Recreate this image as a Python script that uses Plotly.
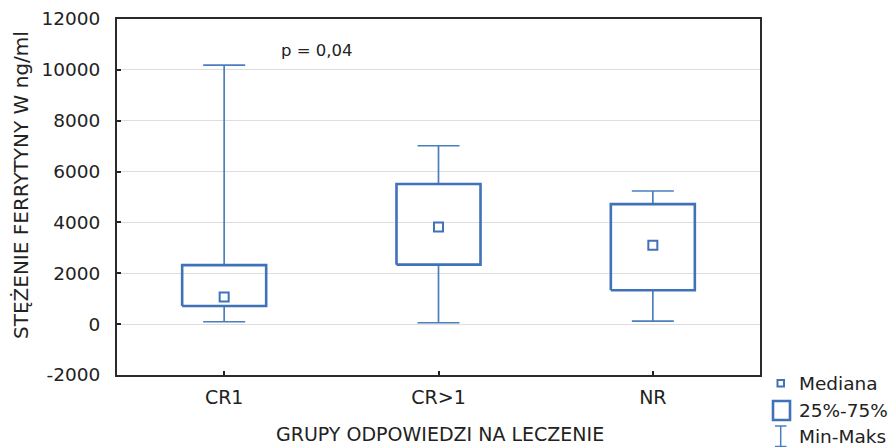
import plotly.graph_objects as go

categories = ["CR1", "CR>1", "NR"]
mins = [95, 55, 120]
q1 = [716, 2340, 1330]
medians = [1065, 3820, 3100]
q3 = [2320, 5510, 4720]
maxs = [10190, 7015, 5235]
y_ticks = [-2000, 0, 2000, 4000, 6000, 8000, 10000, 12000]

BOX = "#3f72b9"
WH = "#4a7ebd"
FONT = "DejaVu Sans, Liberation Sans, Arial, sans-serif"
TXT = "#222222"

W, H = 892, 447
L, R, T, B = 117, 760, 19, 375

fig = go.Figure()
bw = 0.196
cw = 0.098
for i, cat in enumerate(categories):
    fig.add_trace(go.Scatter(
        x=[i, i, None, i - cw, i + cw, None, i, i, None, i - cw, i + cw],
        y=[q3[i], maxs[i], None, maxs[i], maxs[i], None, q1[i], mins[i], None, mins[i], mins[i]],
        mode="lines", line=dict(color=WH, width=1.7), showlegend=False, hoverinfo="skip"))
    fig.add_trace(go.Scatter(
        x=[i - bw, i + bw, i + bw, i - bw, i - bw],
        y=[q1[i], q1[i], q3[i], q3[i], q1[i]],
        mode="lines", line=dict(color=BOX, width=2.6), showlegend=False, hoverinfo="skip"))
fig.add_trace(go.Scatter(
    x=list(range(len(categories))), y=medians, mode="markers",
    marker=dict(symbol="square-open", size=9, color=BOX, line=dict(width=2, color=BOX)),
    showlegend=False))

def px(x):
    return (x - L) / (R - L)

def py(y):
    return (B - y) / (B - T)

shapes = []
shapes.append(dict(type="rect", xref="paper", yref="paper",
                   x0=px(777.5), x1=px(784), y0=py(386.5), y1=py(380),
                   line=dict(color=BOX, width=2)))
shapes.append(dict(type="rect", xref="paper", yref="paper",
                   x0=px(773), x1=px(790), y0=py(420), y1=py(401),
                   line=dict(color=BOX, width=2.6)))
shapes.append(dict(type="line", xref="paper", yref="paper",
                   x0=px(780.7), x1=px(780.7), y0=py(446.5), y1=py(426),
                   line=dict(color=WH, width=1.5)))
for yy in (426, 446.5):
    shapes.append(dict(type="line", xref="paper", yref="paper",
                       x0=px(775), x1=px(786.5), y0=py(yy), y1=py(yy),
                       line=dict(color=WH, width=1.5)))

annotations = []
for label, yy in (("Mediana", 383), ("25%-75%", 410), ("Min-Maks", 436.5)):
    annotations.append(dict(text=label, xref="paper", yref="paper", x=px(797), y=py(yy),
                            xanchor="left", yanchor="middle", showarrow=False,
                            font=dict(family=FONT, size=18.5, color=TXT)))
annotations.append(dict(text="p = 0,04", xref="paper", yref="paper", x=px(316.5), y=py(50),
                        xanchor="center", yanchor="middle", showarrow=False,
                        font=dict(family=FONT, size=16.5, color=TXT)))
annotations.append(dict(text="GRUPY ODPOWIEDZI NA LECZENIE", xref="paper", yref="paper",
                        x=px(440), y=py(434), xanchor="center", yanchor="middle", showarrow=False,
                        font=dict(family=FONT, size=19, color=TXT)))
annotations.append(dict(text="STĘŻENIE FERRYTYNY W ng/ml", xref="paper", yref="paper",
                        x=px(21), y=py(185), xanchor="center", yanchor="middle", showarrow=False,
                        textangle=-90, font=dict(family=FONT, size=20, color=TXT)))

fig.update_layout(
    width=W, height=H,
    margin=dict(l=L, r=W - R, t=T, b=H - B, pad=0, autoexpand=False),
    paper_bgcolor="white", plot_bgcolor="white",
    font=dict(family=FONT, color=TXT, size=16),
    shapes=shapes, annotations=annotations,
    showlegend=False,
)
fig.update_xaxes(
    range=[-0.5, 2.5], tickvals=list(range(len(categories))), ticktext=categories,
    ticks="inside", ticklen=4, tickwidth=1.5, tickcolor="#222",
    showline=True, linecolor="#2a2a2a", linewidth=2, mirror=True,
    showgrid=False, zeroline=False, automargin=False, ticklabelstandoff=4,
    tickfont=dict(size=19, family=FONT, color=TXT),
)
fig.update_yaxes(
    range=[-2000, 12000], tickvals=y_ticks, ticktext=[str(v) for v in y_ticks],
    ticks="inside", ticklen=4, tickwidth=1.5, tickcolor="#222",
    showline=True, linecolor="#2a2a2a", linewidth=2, mirror=True,
    showgrid=True, gridcolor="#dedede", gridwidth=1, zeroline=False, automargin=False,
    ticklabelstandoff=11,
    tickfont=dict(size=18.5, family=FONT, color=TXT),
)

fig.write_html("out.html")
